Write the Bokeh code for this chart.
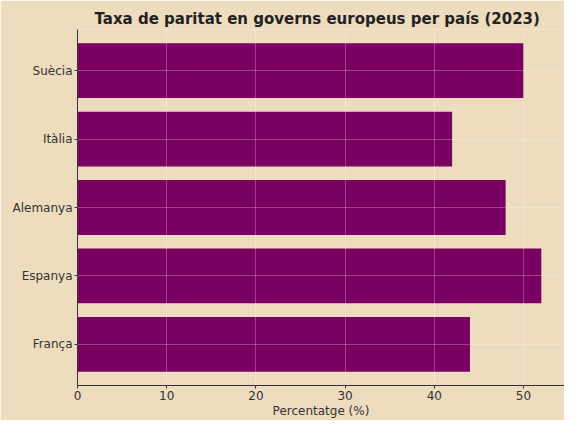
from bokeh.plotting import figure
from bokeh.models import Range1d, FixedTicker
from bokeh.embed import file_html
from bokeh.resources import INLINE

countries = ["França", "Espanya", "Alemanya", "Itàlia", "Suècia"]
parity = [44, 52, 48, 42, 50]
x_ticks = [0, 10, 20, 30, 40, 50]

BG = "#eedcbf"
BAR = "#7a0062"
TXT = "#333333"

ypos = list(range(len(countries)))

p = figure(width=564, height=420, output_backend="svg", toolbar_location=None,
           x_range=Range1d(0, 54.6), y_range=Range1d(-0.6, len(countries) - 0.4),
           title="Taxa de paritat en governs europeus per país (2023)",
           min_border_left=77, min_border_right=0, min_border_top=29, min_border_bottom=0)

p.background_fill_color = BG
p.border_fill_color = BG
p.outline_line_color = None

p.hbar(y=ypos, right=parity, left=0, height=0.8, fill_color=BAR, line_color=None)

p.title.text_font = "DejaVu Sans"
p.title.text_font_size = "15px"
p.title.text_font_style = "bold"
p.title.text_color = "#222222"
p.title.align = "left"
p.title.offset = 17
p.title.standoff = 4

p.xaxis.ticker = FixedTicker(ticks=x_ticks)
p.yaxis.ticker = FixedTicker(ticks=ypos)
p.yaxis.major_label_overrides = {i: c for i, c in enumerate(countries)}
p.xaxis.axis_label = "Percentatge (%)"

for ax in (p.xaxis, p.yaxis):
    ax.axis_line_color = TXT
    ax.axis_line_width = 1
    ax.major_tick_line_color = TXT
    ax.major_tick_out = 3
    ax.major_tick_in = 0
    ax.minor_tick_line_color = None
    ax.major_label_text_font = "DejaVu Sans"
    ax.major_label_text_font_size = "12px"
    ax.major_label_text_color = TXT
    ax.major_label_standoff = 2
    ax.axis_label_text_font = "DejaVu Sans"
    ax.axis_label_text_font_size = "12px"
    ax.axis_label_text_font_style = "normal"
    ax.axis_label_text_color = TXT
    ax.axis_label_standoff = 1

p.xgrid.grid_line_color = "white"
p.xgrid.grid_line_alpha = 0.25
p.ygrid.grid_line_color = "white"
p.ygrid.grid_line_alpha = 0.25
p.xgrid.level = "overlay"
p.ygrid.level = "overlay"

open("out.html", "w").write(file_html(p, INLINE))
